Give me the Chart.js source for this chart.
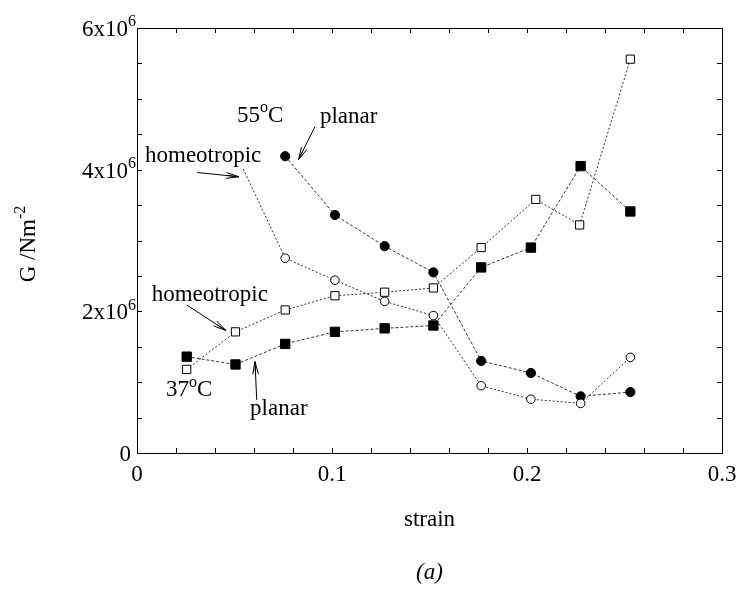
<!DOCTYPE html>
<html>
<head>
<meta charset="utf-8">
<script src="https://cdn.jsdelivr.net/npm/chart.js@4/dist/chart.umd.min.js"></script>
<style>
  html, body { margin: 0; padding: 0; background: #fff; }
  #wrap { width: 738px; height: 590px; }
</style>
</head>
<body>
<div id="wrap"><canvas id="c" width="738" height="590"></canvas></div>
<script>
// Shear modulus G (in units of 10^6 N m^-2) against strain
const strain37p = [0.0255, 0.0505, 0.076, 0.1015, 0.127, 0.152, 0.1765, 0.202, 0.2275, 0.253];
const planar37  = [1.36, 1.25, 1.54, 1.71, 1.76, 1.80, 2.62, 2.90, 4.05, 3.41];

const strain37h = [0.0255, 0.0505, 0.076, 0.1015, 0.127, 0.152, 0.1765, 0.2045, 0.227, 0.253];
const homeo37   = [1.18, 1.71, 2.02, 2.22, 2.27, 2.33, 2.90, 3.58, 3.22, 5.56];

const strain55p = [0.076, 0.1015, 0.127, 0.152, 0.1765, 0.202, 0.2275, 0.253];
const planar55  = [4.19, 3.36, 2.92, 2.55, 1.30, 1.13, 0.80, 0.86];

const strain55h = [0.0545, 0.076, 0.1015, 0.127, 0.152, 0.1765, 0.202, 0.2275, 0.253];
const homeo55   = [4.01, 2.75, 2.44, 2.14, 1.94, 0.95, 0.76, 0.70, 1.35];

const xTickLabels = ['0', '0.1', '0.2', '0.3'];
const yTickValues = [0, 2, 4, 6];

const serif = '"Liberation Serif", "Times New Roman", serif';
const ink = '#000';
const lineInk = '#333';

const pts = (xs, ys) => xs.map((x, i) => ({ x: x, y: ys[i] }));

// Text labels and arrows placed in data coordinates (strain, G)
const notes = [
  { parts: [['55', 0], ['o', 1], ['C', 0]], x: 0.0513, y: 4.68 },
  { parts: [['planar', 0]], x: 0.0938, y: 4.66 },
  { parts: [['homeotropic', 0]], x: 0.0041, y: 4.11 },
  { parts: [['homeotropic', 0]], x: 0.0075, y: 2.14 },
  { parts: [['37', 0], ['o', 1], ['C', 0]], x: 0.0149, y: 0.80 },
  { parts: [['planar', 0]], x: 0.058, y: 0.537 }
];
const arrows = [
  { from: [0.0913, 4.61], to: [0.0828, 4.14] },
  { from: [0.0308, 3.96], to: [0.0523, 3.90] },
  { from: [0.0255, 2.09], to: [0.0456, 1.73] },
  { from: [0.0614, 0.75], to: [0.0605, 1.29] }
];

function drawParts(ctx, parts, x, y, size, align) {
  const supSize = Math.round(size * 0.68);
  const widths = parts.map(([t, sup]) => {
    ctx.font = (sup ? supSize : size) + 'px ' + serif;
    return ctx.measureText(t).width;
  });
  const total = widths.reduce((a, b) => a + b, 0);
  let cx = align === 'right' ? x - total : align === 'center' ? x - total / 2 : x;
  parts.forEach(([t, sup], i) => {
    ctx.font = (sup ? supSize : size) + 'px ' + serif;
    ctx.fillText(t, cx, sup ? y - size * 0.42 : y);
    cx += widths[i];
  });
}

const framePlugin = {
  id: 'frameAndNotes',
  afterDatasetsDraw(chart) {
    const { ctx, chartArea: a, scales: { x, y } } = chart;
    ctx.save();
    ctx.strokeStyle = ink;
    ctx.lineWidth = 1;
    ctx.setLineDash([]);
    ctx.strokeRect(Math.round(a.left) + 0.5, Math.round(a.top) + 0.5,
                   Math.round(a.right - a.left), Math.round(a.bottom - a.top));

    // inward tick marks
    ctx.beginPath();
    x.ticks.forEach(t => {
      const px = Math.round(x.getPixelForValue(t.value)) + 0.5;
      ctx.moveTo(px, a.bottom); ctx.lineTo(px, a.bottom - 5);
      ctx.moveTo(px, a.top); ctx.lineTo(px, a.top + 5);
    });
    y.ticks.forEach(t => {
      const py = Math.round(y.getPixelForValue(t.value)) + 0.5;
      ctx.moveTo(a.left, py); ctx.lineTo(a.left + 5, py);
      ctx.moveTo(a.right, py); ctx.lineTo(a.right - 5, py);
    });
    ctx.stroke();

    // y tick labels with powers of ten
    ctx.fillStyle = ink;
    ctx.textBaseline = 'alphabetic';
    ctx.textAlign = 'left';
    yTickValues.forEach(v => {
      const py = y.getPixelForValue(v) + 8;
      if (v === 0) {
        drawParts(ctx, [['0', 0]], 131, py, 23, 'right');
      } else {
        drawParts(ctx, [[v + 'x10', 0]], 128, py, 23, 'right');
        drawParts(ctx, [['6', 1]], 128, py, 23, 'left');
      }
    });

    // y axis title
    ctx.save();
    ctx.translate(35, 244);
    ctx.rotate(-Math.PI / 2);
    drawParts(ctx, [['G /Nm', 0], ['-2', 1]], 0, 0, 23, 'center');
    ctx.restore();

    // panel caption
    ctx.font = 'italic 23px ' + serif;
    ctx.textAlign = 'center';
    ctx.fillText('(a)', (a.left + a.right) / 2, 579);
    ctx.textAlign = 'left';

    // annotations
    notes.forEach(n => {
      drawParts(ctx, n.parts, x.getPixelForValue(n.x), y.getPixelForValue(n.y), 23, 'left');
    });
    ctx.strokeStyle = ink;
    ctx.lineWidth = 1;
    arrows.forEach(ar => {
      const x0 = x.getPixelForValue(ar.from[0]), y0 = y.getPixelForValue(ar.from[1]);
      const x1 = x.getPixelForValue(ar.to[0]), y1 = y.getPixelForValue(ar.to[1]);
      const ang = Math.atan2(y1 - y0, x1 - x0);
      const hl = 13, spread = 0.22;
      ctx.beginPath();
      ctx.moveTo(x0, y0); ctx.lineTo(x1, y1);
      ctx.moveTo(x1 - hl * Math.cos(ang - spread), y1 - hl * Math.sin(ang - spread));
      ctx.lineTo(x1, y1);
      ctx.lineTo(x1 - hl * Math.cos(ang + spread), y1 - hl * Math.sin(ang + spread));
      ctx.moveTo(x1 - hl * 0.8 * Math.cos(ang), y1 - hl * 0.8 * Math.sin(ang));
      ctx.lineTo(x1, y1);
      ctx.stroke();
    });
    ctx.restore();
  }
};

const base = {
  showLine: true,
  borderColor: lineInk,
  borderWidth: 1,
  pointBorderColor: ink,
  pointBorderWidth: 1
};

new Chart(document.getElementById('c'), {
  type: 'scatter',
  data: {
    datasets: [
      Object.assign({}, base, {
        label: '55 C homeotropic',
        data: pts(strain55h, homeo55),
        borderDash: [2, 2],
        pointStyle: 'circle',
        pointRadius: strain55h.map((s, i) => i === 0 ? 0 : 4.3),
        pointBackgroundColor: '#fff'
      }),
      Object.assign({}, base, {
        label: '55 C planar',
        data: pts(strain55p, planar55),
        borderDash: [3, 2],
        pointStyle: 'circle',
        pointRadius: 4.6,
        pointBackgroundColor: ink
      }),
      Object.assign({}, base, {
        label: '37 C homeotropic',
        data: pts(strain37h, homeo37),
        borderDash: [2, 2],
        pointStyle: 'rect',
        pointRadius: 5.8,
        pointBackgroundColor: '#fff'
      }),
      Object.assign({}, base, {
        label: '37 C planar',
        data: pts(strain37p, planar37),
        borderDash: [3, 2],
        pointStyle: 'rect',
        pointRadius: 6.6,
        pointBackgroundColor: ink
      })
    ]
  },
  options: {
    responsive: false,
    animation: false,
    events: [],
    layout: { padding: { top: 28, right: 16, left: 0, bottom: 0 } },
    plugins: { legend: { display: false }, tooltip: { enabled: false } },
    scales: {
      x: {
        type: 'linear',
        min: 0, max: 0.3,
        afterFit: s => { s.height = 137; s.paddingLeft = 0; s.paddingRight = 0; },
        border: { display: false },
        grid: { display: false, drawTicks: false },
        ticks: {
          stepSize: 0.02,
          autoSkip: false,
          maxRotation: 0,
          padding: 8,
          color: ink,
          font: { family: serif, size: 23 },
          callback: v => {
            const k = Math.round(v * 10);
            return Math.abs(v * 10 - k) < 1e-6 ? xTickLabels[k] : '';
          }
        },
        title: {
          display: true,
          text: 'strain',
          color: ink,
          font: { family: serif, size: 23 },
          padding: { top: 0, bottom: 56 }
        }
      },
      y: {
        type: 'linear',
        min: 0, max: 6,
        afterFit: s => { s.width = 137; s.paddingTop = 0; s.paddingBottom = 0; },
        border: { display: false },
        grid: { display: false, drawTicks: false },
        ticks: { stepSize: 0.5, display: false }
      }
    }
  },
  plugins: [framePlugin]
});
</script>
</body>
</html>
